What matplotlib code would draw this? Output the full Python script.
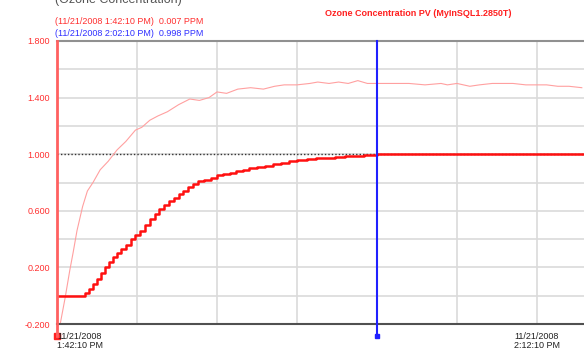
import matplotlib
matplotlib.use("Agg")
import matplotlib.pyplot as plt

plt.rcParams['font.family'] = ['Liberation Sans', 'DejaVu Sans']

# minutes after 11/21/2008 1:42:10 PM
pv_t = [0.0, 1.75, 2.0, 2.25, 2.5, 2.75, 3.0, 3.25, 3.5, 3.75, 4.0, 4.3, 4.6,
        4.9, 5.2, 5.5, 5.8, 6.1, 6.4, 6.7, 7.0, 7.3, 7.6, 7.9, 8.2, 8.5, 8.8,
        9.2, 9.6, 10.0, 10.4, 10.8, 11.2, 11.6, 12.0, 12.5, 13.0, 13.5, 14.0,
        14.5, 15.0, 15.6, 16.2, 16.8, 17.4, 18.0, 18.6, 19.2, 20.0, 21.0, 23.0,
        24.0, 26.0, 27.0, 29.0, 30.0, 32.0, 32.95]
pv_v = [0.0, 0.02, 0.05, 0.08, 0.12, 0.16, 0.20, 0.24, 0.27, 0.30, 0.33, 0.36,
        0.40, 0.43, 0.46, 0.50, 0.54, 0.58, 0.61, 0.64, 0.67, 0.69, 0.72, 0.74,
        0.77, 0.79, 0.81, 0.82, 0.83, 0.85, 0.86, 0.87, 0.88, 0.89, 0.90, 0.91,
        0.92, 0.93, 0.94, 0.95, 0.96, 0.965, 0.97, 0.975, 0.98, 0.985, 0.99,
        0.993, 0.998, 1.0, 1.003, 1.0, 1.004, 1.0, 1.003, 1.0, 1.002, 1.0]

raw_t = [0.2, 0.5, 0.8, 1.0, 1.25, 1.6, 1.9, 2.25, 2.7, 3.2, 3.75, 4.3, 4.9,
         5.3, 5.8, 6.3, 6.9, 7.6, 8.3, 8.9, 9.5, 10.0, 10.6, 11.3, 12.1, 12.9,
         13.6, 14.2, 15.0, 15.8, 16.3, 17.0, 17.6, 18.2, 18.8, 19.4, 20.0, 21.0,
         22.0, 23.0, 24.0, 24.4, 25.0, 25.8, 26.4, 27.2, 28.0, 28.5, 29.3, 30.0,
         30.6, 31.3, 32.0, 32.8]
raw_v = [-0.2, -0.02, 0.18, 0.30, 0.46, 0.63, 0.74, 0.80, 0.89, 0.95, 1.03,
         1.09, 1.17, 1.19, 1.24, 1.27, 1.30, 1.35, 1.39, 1.38, 1.40, 1.44, 1.43,
         1.46, 1.47, 1.46, 1.48, 1.49, 1.49, 1.50, 1.51, 1.50, 1.51, 1.50, 1.52,
         1.50, 1.50, 1.50, 1.50, 1.49, 1.50, 1.49, 1.50, 1.48, 1.49, 1.50, 1.50,
         1.50, 1.49, 1.49, 1.49, 1.48, 1.48, 1.47]

yticks = [-0.2, 0.2, 0.6, 1.0, 1.4, 1.8]
ygrid = [-0.2, 0.0, 0.2, 0.4, 0.6, 0.8, 1.0, 1.2, 1.4, 1.6, 1.8]
xgrid = [0, 5, 10, 15, 20, 25, 30]
cursor_t = 20.0

fig = plt.figure(figsize=(5.84, 3.51), dpi=100)
ax = fig.add_axes([57/584, 1-324/351, 1-57/584, (324-41)/351])
ax.set_xlim(0, 527/16)
ax.set_ylim(-0.2, 1.8)

for g in ygrid:
    ax.axhline(g, color='#dadada', lw=1.2, zorder=0)
for g in xgrid:
    ax.axvline(g, color='#dadada', lw=1.2, zorder=0)

ax.axhline(1.0, color='#333333', lw=1, ls=(0, (1, 1.5)), zorder=1)
ax.plot(raw_t, raw_v, color='#ffa0a0', lw=0.8, zorder=2)
ax.step(pv_t, pv_v, where='post', color='#ff1010', lw=1.8, zorder=3)

ax.plot([cursor_t, cursor_t], [-0.285, 1.8], color='#2020ff', lw=1.5,
        clip_on=False, zorder=4)
ax.plot([cursor_t], [-0.285], 's', color='#2020ff', ms=3, clip_on=False)
ax.plot([0, 0], [-0.285, 1.8], color='#ff6060', lw=2, clip_on=False, zorder=4)
ax.plot([0], [-0.285], 's', color='#ff2020', ms=4, clip_on=False)

for s in ['left', 'right']:
    ax.spines[s].set_visible(False)
ax.spines['top'].set_color('#909090')
ax.spines['top'].set_linewidth(1.5)
ax.spines['bottom'].set_color('#505050')
ax.spines['bottom'].set_linewidth(1.5)

ax.set_yticks(yticks)
ax.set_yticklabels(['%.3f' % v for v in yticks], color='#ff3030', fontsize=6.5)
ax.tick_params(axis='y', length=0, pad=5)
ax.set_xticks([])

ax.text(0, -0.255, '11/21/2008\n1:42:10 PM', ha='left', va='top', fontsize=6.5,
        color='#222222', linespacing=1.05)
ax.text(30, -0.255, '11/21/2008\n2:12:10 PM', ha='center', va='top', fontsize=6.5,
        color='#222222', linespacing=1.05)

fig.text(55/584, 1-22/351, '(11/21/2008 1:42:10 PM)  0.007 PPM', color='#ff3030',
         fontsize=6.5, va='center')
fig.text(55/584, 1-33/351, '(11/21/2008 2:02:10 PM)  0.998 PPM', color='#3030ff',
         fontsize=6.5, va='center')
fig.text(325/584, 1-13/351, 'Ozone Concentration PV (MyInSQL1.2850T)',
         color='#ff2020', fontsize=6.5, fontweight='bold', va='center')
fig.text(55/584, 1-6/351, '(Ozone Concentration)', color='#555555',
         fontsize=9, va='bottom')

fig.savefig('out.png', dpi=100)
